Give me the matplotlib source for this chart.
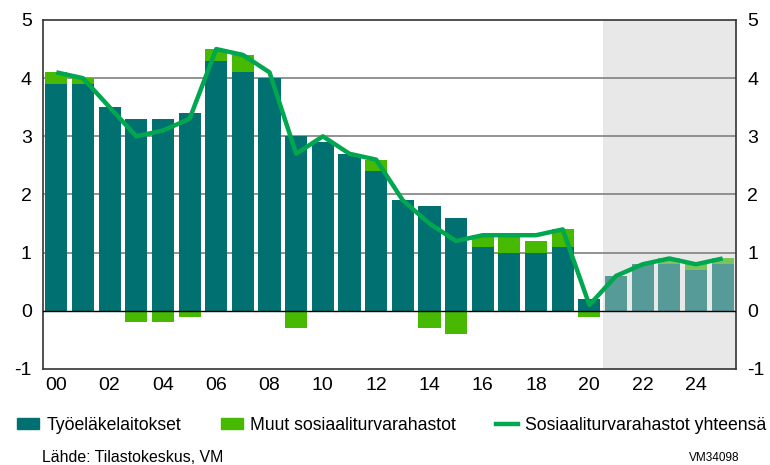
import numpy as np
import matplotlib.pyplot as plt
from matplotlib.patches import Patch
from matplotlib.lines import Line2D

plt.rcParams['font.family'] = ['Liberation Sans', 'DejaVu Sans']
plt.rcParams['axes.unicode_minus'] = False

years = np.arange(2000, 2026)
tyoelake = [3.9, 3.9, 3.5, 3.3, 3.3, 3.4, 4.3, 4.1, 4.0, 3.0, 2.9, 2.7, 2.4,
            1.9, 1.8, 1.6, 1.1, 1.0, 1.0, 1.1, 0.2, 0.6, 0.8, 0.8, 0.7, 0.8]
muut = [0.2, 0.1, 0.0, -0.2, -0.2, -0.1, 0.2, 0.3, 0.0, -0.3, 0.0, 0.0, 0.2,
        0.0, -0.3, -0.4, 0.2, 0.3, 0.2, 0.3, -0.1, 0.0, 0.0, 0.1, 0.1, 0.1]
yhteensa = [4.1, 4.0, 3.5, 3.0, 3.1, 3.3, 4.5, 4.4, 4.1, 2.7, 3.0, 2.7, 2.6,
            1.9, 1.5, 1.2, 1.3, 1.3, 1.3, 1.4, 0.1, 0.6, 0.8, 0.9, 0.8, 0.9]
ennuste_alku = 2021

teal = '#007070'
green = '#46b900'
teal_f = '#579b99'
green_f = '#7cc45a'
linecol = '#00a650'

x = np.arange(len(years))
forecast = years >= ennuste_alku
tyo = np.array(tyoelake)
mu = np.array(muut)
# muut pinotaan positiivisena päälle, negatiivisena nollan alle
base = np.where(mu >= 0, tyo, 0)

fig = plt.figure(figsize=(7.7, 4.65), dpi=100)
ax = fig.add_axes([0.0558, 0.2065, 0.9, 0.7505])

ax.axvspan(x[forecast][0] - 0.5, 25.5, color='#e8e8e8', zorder=0, lw=0)
for v in [1, 2, 3, 4]:
    ax.axhline(v, color='#808080', lw=1.2, zorder=1)

tc = [teal_f if f else teal for f in forecast]
gc = [green_f if f else green for f in forecast]
ax.bar(x, tyo, width=0.83, color=tc, zorder=2)
ax.bar(x, mu, bottom=base, width=0.83, color=gc, zorder=2)
ax.axhline(0, color='black', lw=1, zorder=3)
ax.plot(x, yhteensa, color=linecol, lw=3.2, zorder=4, solid_capstyle='butt')

ax.set_xlim(-0.5, 25.5)
ax.set_ylim(-1, 5)
ax.set_yticks(range(-1, 6))
ax.set_xticks(x[::2])
ax.set_xticklabels([f'{y % 100:02d}' for y in years[::2]])
ax.tick_params(length=0, labelsize=14, labelright=True, pad=8)
ax.tick_params(axis='x', pad=6)
for s in ax.spines.values():
    s.set_color('#333333')
    s.set_linewidth(1.2)

handles = [Patch(color=teal), Patch(color=green),
           Line2D([0], [0], color=linecol, lw=3.2)]
labels = ['Työeläkelaitokset', 'Muut sosiaaliturvarahastot',
          'Sosiaaliturvarahastot yhteensä']
fig.legend(handles, labels, loc='center left', bbox_to_anchor=(0.013, 0.086),
           borderaxespad=0, ncol=3, frameon=False, fontsize=12.7,
           handlelength=1.25, handleheight=0.6, handletextpad=0.42,
           columnspacing=2.25)

fig.text(0.054, 0.006, 'Lähde: Tilastokeskus, VM', fontsize=11.4)
fig.text(0.895, 0.008, 'VM34098', fontsize=8.5)

fig.savefig('out.png', dpi=100)
